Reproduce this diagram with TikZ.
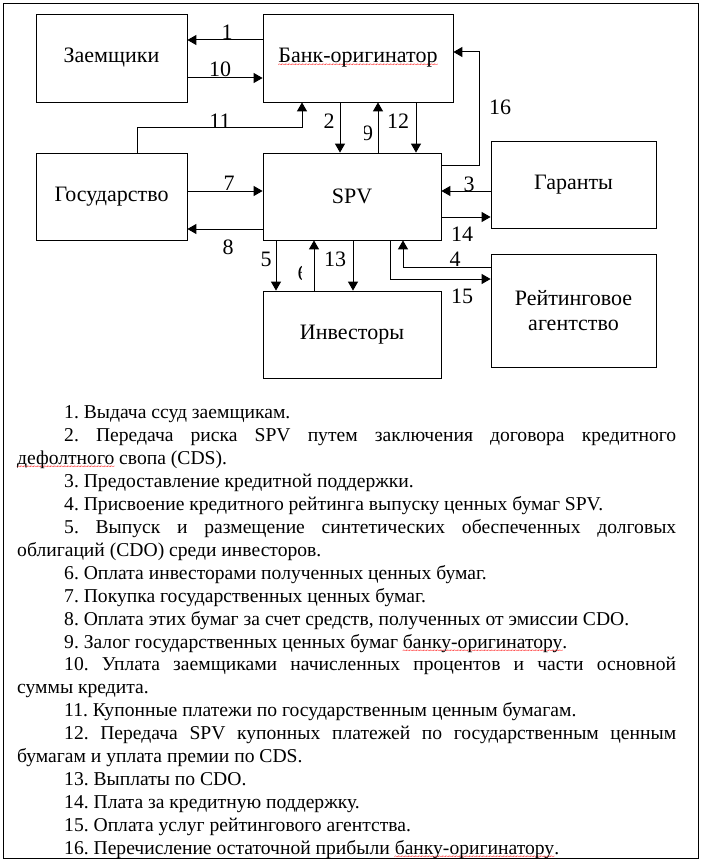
\documentclass[tikz,border=0pt]{standalone}
\usepackage{fontspec}
\setmainfont{Liberation Serif}
\usetikzlibrary{arrows.meta}
\newsavebox\sqbox
\newcommand\redsq[1]{\sbox\sqbox{#1}\rlap{\lower5.3pt\hbox to\wd\sqbox{\color{red}\fontsize{8}{8}\selectfont\xleaders\hbox{\kern-0.5pt\string~\kern-0.5pt}\hfil}}\usebox\sqbox}
\begin{document}
\begin{tikzpicture}[x=1pt,y=-1pt,
  box/.style={draw, line width=0.8pt, inner sep=0, align=center, font=\fontsize{22}{25}\selectfont},
  conn/.style={line width=1pt, -{Triangle[length=9pt,width=10pt]}},
  num/.style={inner sep=0, font=\fontsize{22}{25}\selectfont}]
\useasboundingbox (0,0) rectangle (702,861);
\draw[line width=0.8pt] (3,3) rectangle (698,858);
% boxes
\node[box, minimum width=151pt, minimum height=88pt] (zaem) at (111.5,58) {Заемщики};
\node[box, minimum width=190pt, minimum height=88pt] (bank) at (358,58) {\redsq{Банк-оригинатор}};
\node[box, minimum width=151pt, minimum height=87pt] (gos) at (111.5,196.5) {Государство};
\node[box, minimum width=178pt, minimum height=87pt] (spv) at (352,196.5) {SPV};
\node[box, minimum width=165pt, minimum height=87pt] (gar) at (573.5,184.5) {Гаранты};
\node[box, minimum width=165pt, minimum height=113pt] (rat) at (573.5,310.5) {Рейтинговое\\агентство};
\node[box, minimum width=178pt, minimum height=87pt] (inv) at (352,334.5) {Инвесторы};
% connectors
\draw[conn] (bank.west |- 0,40) -- (zaem.east |- 0,40);
\draw[conn] (zaem.east |- 0,78) -- (bank.west |- 0,78);
\draw[conn] (gos.north -| 137,0) -- (137,128) -- (302,128) -- (bank.south -| 302,0);
\draw[conn] (bank.south -| 340,0) -- (spv.north -| 340,0);
\draw[conn] (spv.north -| 378,0) -- (bank.south -| 378,0);
\draw[conn] (bank.south -| 416,0) -- (spv.north -| 416,0);
\draw[conn] (spv.east |- 0,166) -- (479,166) -- (479,52) -- (bank.east |- 0,52);
\draw[conn] (gos.east |- 0,191) -- (spv.west |- 0,191);
\draw[conn] (spv.west |- 0,229) -- (gos.east |- 0,229);
\draw[conn] (gar.west |- 0,191) -- (spv.east |- 0,191);
\draw[conn] (spv.east |- 0,217) -- (gar.west |- 0,217);
\draw[conn] (spv.south -| 276,0) -- (inv.north -| 276,0);
\draw[conn] (inv.north -| 314,0) -- (spv.south -| 314,0);
\draw[conn] (spv.south -| 353,0) -- (inv.north -| 353,0);
\draw[conn] (rat.west |- 0,267) -- (403,267) -- (spv.south -| 403,0);
\draw[conn] (spv.south -| 390,0) -- (390,279) -- (rat.west |- 0,279);
% labels
\node[num] (n1) at (227,32) {1};
\node[num] (n10) at (220,69) {10};
\node[num] (n11) at (220,121) {11};
\node[num] (n2) at (329,121) {2};
\begin{scope}
\clip (364.5,115) rectangle (376,150);
\node[num] (n9) at (367.5,133) {9};
\end{scope}
\node[num] (n12) at (398,121) {12};
\node[num] (n16) at (500,107) {16};
\node[num] (n7) at (229,183) {7};
\node[num] (n8) at (228,247) {8};
\node[num] (n3) at (469,184) {3};
\node[num] (n14) at (462,234) {14};
\node[num] (n5) at (266,259) {5};
\begin{scope}
\clip (290,255) rectangle (301.5,290);
\node[num] (n6) at (303,273) {6};
\end{scope}
\node[num] (n13) at (335,259) {13};
\node[num] (n4) at (455,259) {4};
\node[num] (n15) at (462,296) {15};
% list
\node[anchor=base west, inner sep=0] (list) at (17,418.5) {\parbox[t]{659pt}{\fontsize{19.6}{22.95}\selectfont\frenchspacing\setlength\parindent{47pt}\hyphenpenalty=10000 \exhyphenpenalty=10000
1. Выдача ссуд заемщикам.\par
2. Передача риска SPV путем заключения договора кредитного\linebreak \redsq{дефолтного} свопа (CDS).\par
3. Предоставление кредитной поддержки.\par
4. Присвоение кредитного рейтинга выпуску ценных бумаг SPV.\par
5. Выпуск и размещение синтетических обеспеченных долговых\linebreak облигаций (CDO) среди инвесторов.\par
6. Оплата инвесторами полученных ценных бумаг.\par
7. Покупка государственных ценных бумаг.\par
8. Оплата этих бумаг за счет средств, полученных от эмиссии CDO.\par
9. Залог государственных ценных бумаг \redsq{банку-оригинатору}.\par
10. Уплата заемщиками начисленных процентов и части основной\linebreak суммы кредита.\par
11. Купонные платежи по государственным ценным бумагам.\par
12. Передача SPV купонных платежей по государственным ценным\linebreak бумагам и уплата премии по CDS.\par
13. Выплаты по CDO.\par
14. Плата за кредитную поддержку.\par
15. Оплата услуг рейтингового агентства.\par
16. Перечисление остаточной прибыли \redsq{банку-оригинатору}.\par}};
\end{tikzpicture}
\end{document}
